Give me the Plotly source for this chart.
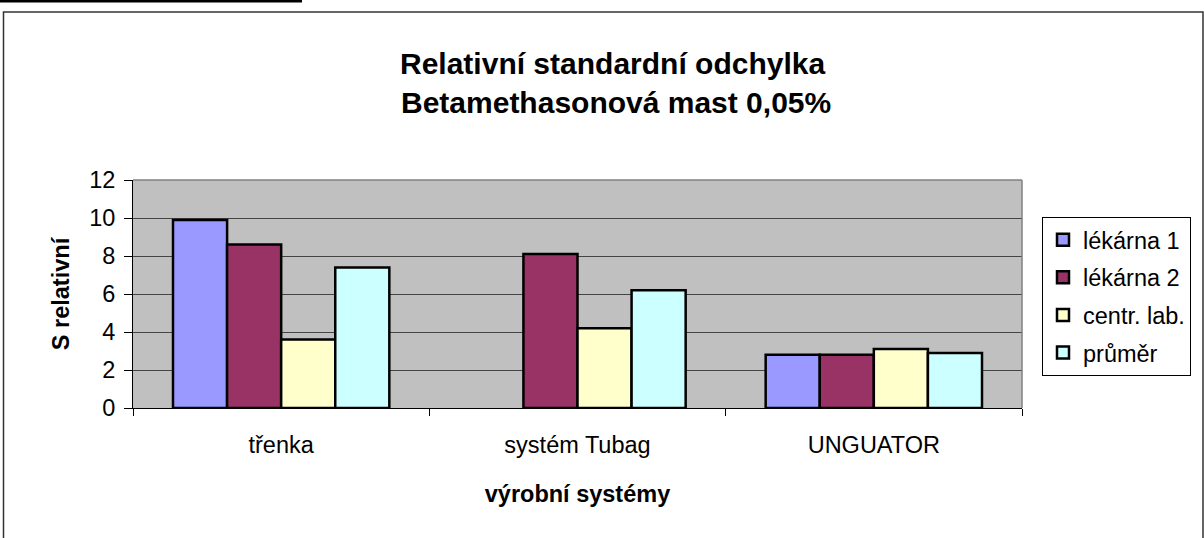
import plotly.graph_objects as go

categories = ["třenka", "systém Tubag", "UNGUATOR"]
series_names = ["lékárna 1", "lékárna 2", "centr. lab.", "průměr"]
lekarna1 = [9.9, None, 2.8]
lekarna2 = [8.6, 8.1, 2.8]
centr_lab = [3.6, 4.2, 3.1]
prumer = [7.4, 6.2, 2.9]
y_ticks = [0, 2, 4, 6, 8, 10, 12]

colors = ["#9999FF", "#993366", "#FFFFCC", "#CCFFFF"]
values = [lekarna1, lekarna2, centr_lab, prumer]

W, H = 1204, 538
L, R, T, B = 133, 1022, 180, 408

fig = go.Figure()
for i, (name, vals) in enumerate(zip(series_names, values)):
    fig.add_trace(go.Bar(
        x=categories, y=vals, name=name,
        marker=dict(color=colors[i], line=dict(color="black", width=2.5)),
        legendgroup=str(i),
    ))

def px(x):
    return (x - L) / (R - L)

def py(y):
    return (B - y) / (B - T)

font = dict(family="Arial, Liberation Sans, sans-serif", color="black")
FS = 23.5

fig.update_layout(
    width=W, height=H,
    margin=dict(l=L, r=W - R, t=T, b=H - B),
    paper_bgcolor="white",
    plot_bgcolor="#C0C0C0",
    barmode="group", bargap=0.27, bargroupgap=0,
    font=dict(size=FS, **font),
    showlegend=True,
    legend=dict(
        x=px(1042), y=py(217), xanchor="left", yanchor="top",
        bordercolor="black", borderwidth=1, bgcolor="white",
        font=dict(size=FS, **font), tracegroupgap=4,
        itemwidth=30,
    ),
    xaxis=dict(
        showline=True, linecolor="black", linewidth=1,
        ticks="outside", tickson="boundaries", ticklen=7, tickcolor="black",
        tickfont=dict(size=FS, **font), ticklabelstandoff=16,
        title=dict(text="<b>výrobní systémy</b>", font=dict(size=FS, **font), standoff=28),
        showgrid=False, mirror=False,
    ),
    yaxis=dict(
        range=[0, 12], tickvals=y_ticks,
        showline=True, linecolor="black", linewidth=1,
        ticks="outside", ticklen=8, tickcolor="black",
        tickfont=dict(size=FS, **font), ticklabelstandoff=4,
        showgrid=True, gridcolor="#444444", gridwidth=1,
        zeroline=False,
        title=dict(text="<b>S relativní</b>", font=dict(size=FS, **font), standoff=12),
    ),
    annotations=[
        dict(text="<b>Relativní standardní odchylka</b>", x=px(612), y=py(63),
             xref="paper", yref="paper", xanchor="center", yanchor="middle",
             showarrow=False, font=dict(size=30, **font)),
        dict(text="<b>Betamethasonová mast 0,05%</b>", x=px(616), y=py(103),
             xref="paper", yref="paper", xanchor="center", yanchor="middle",
             showarrow=False, font=dict(size=30, **font)),
    ],
    shapes=[
        dict(type="rect", xref="paper", yref="paper",
             x0=px(3.5), x1=px(1203), y0=py(560), y1=py(12),
             line=dict(color="#333333", width=1.5), layer="below"),
        dict(type="rect", xref="paper", yref="paper",
             x0=px(0), x1=px(302), y0=py(2.5), y1=py(0),
             line=dict(width=0), fillcolor="black"),
        dict(type="line", xref="paper", yref="paper",
             x0=1, x1=1, y0=0, y1=1, line=dict(color="#808080", width=1.5)),
        dict(type="line", xref="paper", yref="paper",
             x0=0, x1=1, y0=1, y1=1, line=dict(color="#808080", width=1.5)),
    ],
)

fig.write_html("out.html", config={"displayModeBar": False},
               post_script="document.body.style.margin='0';")
